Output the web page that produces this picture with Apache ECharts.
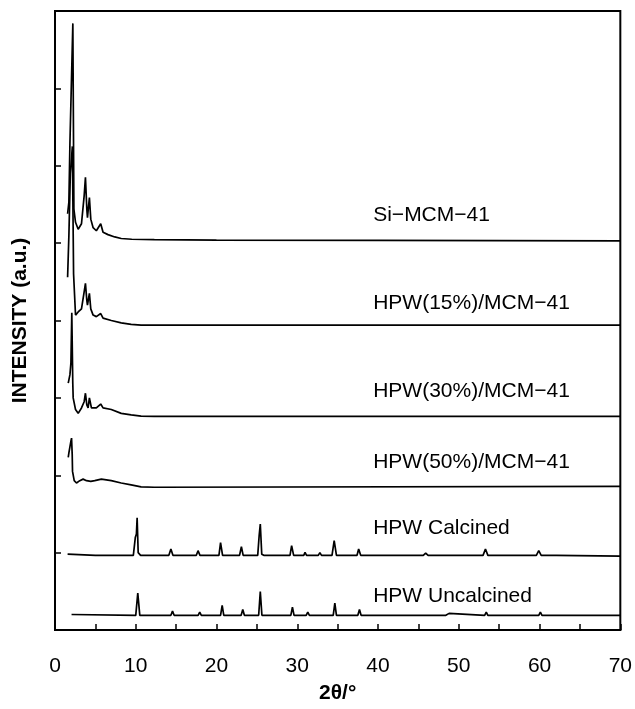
<!DOCTYPE html>
<html>
<head>
<meta charset="utf-8">
<script src="https://cdn.jsdelivr.net/npm/echarts@6/dist/echarts.min.js"></script>
<style>
html,body{margin:0;padding:0;background:#fff;}
#main{width:635px;height:709px;}
</style>
</head>
<body>
<div id="main"></div>
<script>
// 2theta / intensity pairs (offset traces, arbitrary units)
var siMcm41 = [[1.56,5.38],[1.72,5.53],[1.85,6.30],[2.21,7.84],[2.34,5.44],[2.54,5.27],[2.87,5.18],[3.28,5.25],[3.61,5.61],[3.77,5.85],[3.94,5.44],[4.02,5.33],[4.26,5.59],[4.43,5.31],[4.72,5.20],[5.12,5.16],[5.66,5.25],[5.95,5.14],[6.56,5.11],[7.4,5.08],[8.2,5.06],[9.5,5.05],[12.3,5.045],[20,5.04],[40,5.035],[70,5.03]];
var hpw15 = [[1.56,4.56],[1.72,5.10],[1.9,5.9],[2.15,6.25],[2.3,4.6],[2.54,4.07],[2.87,4.11],[3.28,4.15],[3.61,4.37],[3.77,4.48],[3.94,4.26],[4.02,4.20],[4.26,4.35],[4.43,4.15],[4.72,4.07],[5.12,4.05],[5.66,4.09],[5.95,4.03],[6.97,4.0],[8.2,3.97],[9.43,3.95],[10.66,3.94],[30,3.94],[70,3.94]];
var hpw30 = [[1.64,3.19],[1.85,3.30],[1.97,3.45],[2.08,4.10],[2.2,3.2],[2.25,3.0],[2.54,2.85],[2.87,2.80],[3.28,2.87],[3.61,2.95],[3.77,3.06],[3.94,2.91],[4.1,2.87],[4.26,3.0],[4.51,2.87],[4.72,2.85],[5.12,2.87],[5.66,2.92],[5.95,2.87],[6.97,2.85],[8.2,2.80],[9.43,2.78],[10.66,2.765],[12.3,2.76],[70,2.76]];
var hpw50 = [[1.64,2.23],[1.72,2.29],[1.85,2.27],[1.97,2.44],[2.05,2.48],[2.13,2.27],[2.17,2.05],[2.38,1.93],[2.66,1.90],[3.07,1.93],[3.48,1.95],[3.69,1.97],[3.9,1.93],[4.1,1.95],[4.43,1.92],[4.92,1.93],[5.74,1.95],[6.97,1.93],[8.2,1.90],[9.43,1.875],[10.66,1.85],[12.3,1.845],[70,1.855]];
var hpwCalcined = [[1.56,0.98],[5,0.965],[9.7,0.965],[9.95,1.2],[10.08,1.24],[10.17,1.45],[10.3,1.0],[10.6,0.965],[14.1,0.965],[14.35,1.046],[14.6,0.965],[17.5,0.965],[17.71,1.025],[17.95,0.965],[20.3,0.965],[20.5,1.13],[20.75,0.965],[22.85,0.965],[23.08,1.076],[23.3,0.965],[25.1,0.965],[25.28,1.22],[25.42,1.37],[25.6,0.98],[25.85,0.965],[29.1,0.965],[29.3,1.09],[29.55,0.965],[30.8,0.965],[30.96,1.003],[31.15,0.965],[32.6,0.965],[32.8,1.0],[33.0,0.965],[34.3,0.965],[34.57,1.154],[34.85,0.965],[37.4,0.965],[37.6,1.046],[37.85,0.965],[40.2,0.965],[40.4,0.99],[40.6,0.965],[45.6,0.965],[45.9,0.995],[46.2,0.965],[48.6,0.965],[48.8,0.985],[49.0,0.965],[53.0,0.965],[53.3,1.046],[53.6,0.965],[59.6,0.965],[59.9,1.025],[60.2,0.965],[61.7,0.965],[61.9,0.98],[62.1,0.965],[70,0.955]];
var hpwUncalcined = [[2.05,0.20],[10.0,0.19],[10.25,0.476],[10.5,0.19],[14.35,0.19],[14.55,0.244],[14.75,0.19],[17.72,0.19],[17.92,0.232],[18.12,0.19],[20.5,0.19],[20.7,0.318],[20.9,0.19],[21.9,0.19],[22.06,0.21],[22.2,0.19],[23.05,0.19],[23.25,0.266],[23.45,0.19],[25.22,0.19],[25.42,0.497],[25.62,0.19],[27.4,0.19],[27.55,0.21],[27.7,0.19],[29.2,0.19],[29.4,0.296],[29.6,0.19],[31.1,0.19],[31.3,0.232],[31.5,0.19],[33.0,0.19],[33.2,0.21],[33.4,0.19],[34.45,0.19],[34.65,0.347],[34.85,0.19],[37.5,0.19],[37.7,0.266],[37.9,0.19],[40.5,0.19],[40.7,0.215],[40.9,0.19],[42.0,0.19],[42.2,0.205],[42.4,0.19],[45.8,0.19],[46.0,0.215],[46.2,0.19],[48.0,0.19],[48.2,0.205],[48.4,0.19],[48.6,0.19],[48.8,0.215],[49.0,0.19],[53.2,0.19],[53.4,0.232],[53.6,0.19],[55.6,0.19],[55.8,0.205],[56.0,0.19],[57.8,0.19],[58.0,0.205],[58.2,0.19],[59.9,0.19],[60.1,0.232],[60.3,0.19],[61.7,0.19],[61.9,0.215],[62.1,0.19],[65.2,0.19],[65.4,0.205],[65.6,0.19],[70,0.19]];

var seriesNames = ['Si\u2212MCM\u221241','HPW(15%)/MCM\u221241','HPW(30%)/MCM\u221241','HPW(50%)/MCM\u221241','HPW Calcined','HPW Uncalcined'];
var seriesData = [siMcm41, hpw15, hpw30, hpw50, hpwCalcined, hpwUncalcined];
// where each trace name sits, in axis units
var labelX = 39.4;
var labelY = [5.36, 4.23, 3.09, 2.17, 1.32, 0.44];

var font = '"Liberation Sans", Arial, sans-serif';
var myChart = echarts.init(document.getElementById('main'));

var series = [];
for (var i = 0; i < seriesData.length; i++) {
    series.push({
        name: seriesNames[i],
        type: 'line',
        data: seriesData[i],
        showSymbol: false,
        symbol: 'none',
        animation: false,
        lineStyle: {color: '#000', width: 1.7}
    });
}

var option = {
    backgroundColor: '#fff',
    animation: false,
    grid: {
        left: 55, right: 11, top: 11, bottom: 76,
        show: true, borderColor: '#000', borderWidth: 2
    },
    xAxis: {
        type: 'value',
        min: 0, max: 70, interval: 10,
        name: '2\u03b8/\u00b0',
        nameLocation: 'middle',
        nameGap: 53,
        nameTextStyle: {fontFamily: font, fontSize: 21, fontWeight: 'bold', color: '#000'},
        splitLine: {show: false},
        axisLine: {lineStyle: {color: '#000', width: 2}},
        axisTick: {inside: true, length: 6, lineStyle: {color: '#000', width: 1.5}},
        minorTick: {show: true, splitNumber: 2, length: 6, lineStyle: {color: '#000', width: 1.5}},
        axisLabel: {fontFamily: font, fontSize: 21, color: '#000', margin: 26}
    },
    yAxis: {
        type: 'value',
        min: 0, max: 8, interval: 1,
        name: 'INTENSITY (a.u.)',
        nameLocation: 'middle',
        nameGap: 24,
        nameTextStyle: {fontFamily: font, fontSize: 21, fontWeight: 'bold', color: '#000'},
        splitLine: {show: false},
        axisLine: {lineStyle: {color: '#000', width: 2}},
        axisTick: {inside: true, length: 6, lineStyle: {color: '#000', width: 1.5}},
        axisLabel: {show: false}
    },
    series: series
};

myChart.setOption(option);

// trace names placed through the chart's own coordinate system
var texts = [];
for (var j = 0; j < seriesNames.length; j++) {
    var p = myChart.convertToPixel({gridIndex: 0}, [labelX, labelY[j]]);
    texts.push({
        type: 'text',
        x: p[0], y: p[1],
        style: {text: seriesNames[j], fill: '#000', fontSize: 21, fontFamily: font, verticalAlign: 'middle', align: 'left'}
    });
}
myChart.setOption({graphic: texts});
</script>
</body>
</html>
